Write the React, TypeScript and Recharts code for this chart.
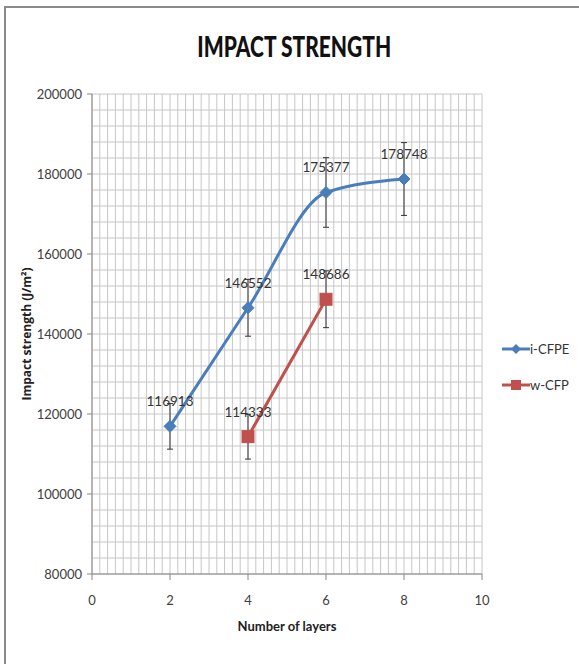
import { LineChart, Line, XAxis, YAxis, CartesianGrid, ErrorBar, LabelList } from 'recharts';

// values
const layers = [2, 4, 6, 8];
const iCfpe = [116913, 146552, 175377, 178748];
const iCfpeErr = [5700, 7100, 8700, 9100];
const wCfpLayers = [4, 6];
const wCfp = [114333, 148686];
const wCfpErr = [5600, 7100];
const xTicks = [0, 2, 4, 6, 8, 10];
const yTicks = [80000, 100000, 120000, 140000, 160000, 180000, 200000];

const FONT = "Lato, 'Open Sans', sans-serif";
const BLUE = '#4a7ebb';
const RED = '#c0504d';

const data = layers.map((x, i) => {
  const j = wCfpLayers.indexOf(x);
  return {
    x,
    iCfpe: iCfpe[i],
    iCfpeErr: iCfpeErr[i],
    wCfp: j >= 0 ? wCfp[j] : null,
    wCfpErr: j >= 0 ? wCfpErr[j] : null,
  };
});

// minor gridlines (Excel style): 0.2 layers and 4000 J/m²
const vGrid: number[] = [];
for (let v = 0; v <= 50; v++) vGrid.push(v / 5);
const hGrid: number[] = [];
for (let v = 80000; v <= 200000; v += 4000) hGrid.push(v);

const Diamond = (props: any) => {
  const { cx, cy, index } = props;
  if (cx == null || cy == null) return <g key={`d${index}`} />;
  const r = 6;
  return (
    <path
      key={`d${index}`}
      d={`M${cx},${cy - r}L${cx + r},${cy}L${cx},${cy + r}L${cx - r},${cy}Z`}
      fill={BLUE}
      stroke={BLUE}
    />
  );
};

const Square = (props: any) => {
  const { cx, cy, index } = props;
  if (cx == null || cy == null) return <g key={`s${index}`} />;
  const r = 6;
  return <rect key={`s${index}`} x={cx - r} y={cy - r} width={r * 2} height={r * 2} fill={RED} stroke={RED} />;
};

const tickStyle = { fontSize: 13, fill: '#404040', fontFamily: FONT };

export default function App() {
  return (
    <div style={{ position: 'absolute', left: 0, top: 0, width: 579, height: 664, background: '#fff', fontFamily: FONT }}>
      <div style={{ position: 'absolute', left: 4, top: 6, width: 575, height: 658, borderTop: '2px solid #8a8a8a', borderLeft: '2px solid #8a8a8a' }} />
      <div style={{ position: 'absolute', left: 5, width: 579, top: 29, textAlign: 'center' }}>
        <span style={{ display: 'inline-block', fontSize: 28, fontWeight: 900, color: '#111', transform: 'scaleX(0.75)' }}>
          IMPACT STRENGTH
        </span>
      </div>
      <LineChart width={579} height={664} data={data} margin={{ top: 94, right: 97, bottom: 60, left: 32 }} style={{ position: 'absolute', left: 0, top: 0 }}>
        <CartesianGrid stroke="#c6c6c6" strokeWidth={1} verticalValues={vGrid} horizontalValues={hGrid} />
        <XAxis
          dataKey="x"
          type="number"
          domain={[0, 10]}
          ticks={xTicks}
          interval={0}
          height={30}
          tick={tickStyle}
          tickSize={6}
          tickMargin={16}
          stroke="#868686"
          label={{ value: 'Number of layers', position: 'bottom', offset: 18, style: { fontSize: 13, fontWeight: 'bold', fill: '#222', fontFamily: FONT } }}
        />
        <YAxis
          type="number"
          domain={[80000, 200000]}
          ticks={yTicks}
          interval={0}
          width={60}
          tick={tickStyle}
          tickSize={5}
          tickMargin={5}
          stroke="#868686"
          label={{ value: 'Impact strength (J/m²)', angle: -90, position: 'left', offset: 5, style: { fontSize: 12, fontWeight: 'bold', fill: '#222', fontFamily: "'Open Sans', sans-serif", textAnchor: 'middle' } }}
        />
        <Line type="monotone" dataKey="iCfpe" stroke={BLUE} strokeWidth={3} dot={Diamond} activeDot={false} isAnimationActive={false}>
          <ErrorBar dataKey="iCfpeErr" width={3} stroke="#333" strokeWidth={1} direction="y" />
          <LabelList dataKey="iCfpe" position="top" offset={20} style={{ fontSize: 13.5, fill: '#333', fontFamily: FONT }} />
        </Line>
        <Line type="linear" dataKey="wCfp" stroke={RED} strokeWidth={3} dot={Square} activeDot={false} isAnimationActive={false}>
          <ErrorBar dataKey="wCfpErr" width={3} stroke="#333" strokeWidth={1} direction="y" />
          <LabelList dataKey="wCfp" position="top" offset={20} style={{ fontSize: 13.5, fill: '#333', fontFamily: FONT }} />
        </Line>
      </LineChart>
      <div style={{ position: 'absolute', left: 502, top: 340, fontSize: 13, color: '#333' }}>
        <div style={{ display: 'flex', alignItems: 'center', height: 18 }}>
          <svg width={28} height={14}>
            <line x1={0} y1={7} x2={28} y2={7} stroke={BLUE} strokeWidth={3} />
            <path d="M14,2L19,7L14,12L9,7Z" fill={BLUE} />
          </svg>
          <span>i-CFPE</span>
        </div>
        <div style={{ display: 'flex', alignItems: 'center', height: 18, marginTop: 18 }}>
          <svg width={28} height={14}>
            <line x1={0} y1={7} x2={28} y2={7} stroke={RED} strokeWidth={3} />
            <rect x={9} y={2} width={10} height={10} fill={RED} />
          </svg>
          <span>w-CFP</span>
        </div>
      </div>
    </div>
  );
}
